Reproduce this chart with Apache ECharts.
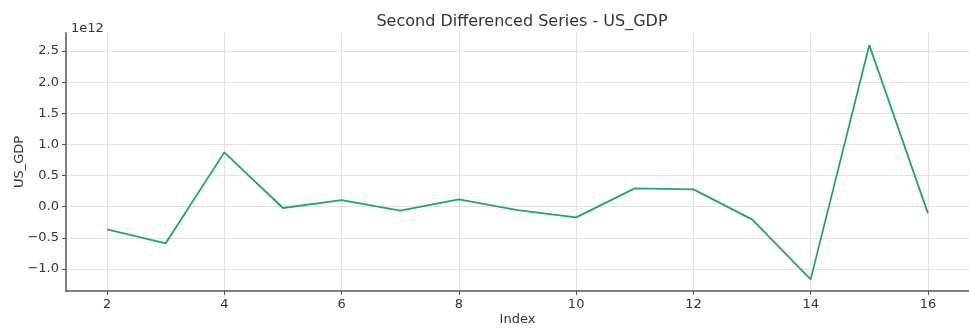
<!DOCTYPE html>
<html>
<head>
<meta charset="utf-8">
<script src="https://cdn.jsdelivr.net/npm/echarts@6/dist/echarts.min.js"></script>
<style>html,body{margin:0;padding:0;background:#fff}#c{width:969px;height:328px}</style>
</head>
<body>
<div id="c"></div>
<script>
const indexValues = [2, 3, 4, 5, 6, 7, 8, 9, 10, 11, 12, 13, 14, 15, 16];
const gdpSecondDiff = [-0.363e12, -0.588e12, 0.873e12, -0.02e12, 0.107e12, -0.064e12, 0.119e12, -0.053e12, -0.170e12, 0.295e12, 0.279e12, -0.203e12, -1.166e12, 2.596e12, -0.106e12];
const xTicks = [2, 4, 6, 8, 10, 12, 14, 16];
const yTicks = [-1.0e12, -0.5e12, 0, 0.5e12, 1.0e12, 1.5e12, 2.0e12, 2.5e12];

const font = 'DejaVu Sans';
const txt = '#333';
const chart = echarts.init(document.getElementById('c'), null, {renderer: 'canvas'});
chart.setOption({
  animation: false,
  backgroundColor: '#fff',
  title: [
    {text: 'Second Differenced Series - US_GDP', left: 517, textAlign: 'center', top: 9,
     textStyle: {fontFamily: font, fontSize: 16, fontWeight: 'normal', color: txt}},
    {text: '1e12', left: 66, top: 17,
     textStyle: {fontFamily: font, fontSize: 13, fontWeight: 'normal', color: txt}}
  ],
  grid: {left: 66, right: 0, top: 33, bottom: 37, containLabel: false, outerBoundsMode: 'none'},
  xAxis: {
    type: 'value', min: 1.3, max: 16.7,
    name: 'Index', nameLocation: 'middle', nameGap: 22, nameMoveOverlap: false,
    nameTextStyle: {fontFamily: font, fontSize: 13, color: txt},
    axisLine: {show: true, onZero: false, lineStyle: {color: '#555', width: 1.5}},
    axisTick: {show: true, length: 4, customValues: xTicks, lineStyle: {color: '#555'}},
    axisLabel: {customValues: xTicks, fontFamily: font, fontSize: 13, color: txt, margin: 7},
    splitLine: {show: true, lineStyle: {color: '#e3e3e3', width: 1}}
  },
  yAxis: {
    type: 'value', min: -1.353e12, max: 2.79e12,
    name: 'US_GDP', nameLocation: 'middle', nameGap: 40, nameRotate: 90, nameMoveOverlap: false,
    nameTextStyle: {fontFamily: font, fontSize: 13, color: txt},
    axisLine: {show: true, onZero: false, lineStyle: {color: '#555', width: 1.5}},
    axisTick: {show: true, length: 4, customValues: yTicks, lineStyle: {color: '#555'}},
    axisLabel: {customValues: yTicks, fontFamily: font, fontSize: 13, color: txt, margin: 7,
      formatter: v => { const s = (v / 1e12).toFixed(1); return s.replace('-', '\u2212'); }},
    splitLine: {show: true, lineStyle: {color: '#e3e3e3', width: 1}}
  },
  series: [{
    type: 'line',
    data: indexValues.map((x, i) => [x, gdpSecondDiff[i]]),
    showSymbol: false,
    lineStyle: {color: '#22a17f', width: 1.8},
    itemStyle: {color: '#22a17f'}
  }]
});
</script>
</body>
</html>
